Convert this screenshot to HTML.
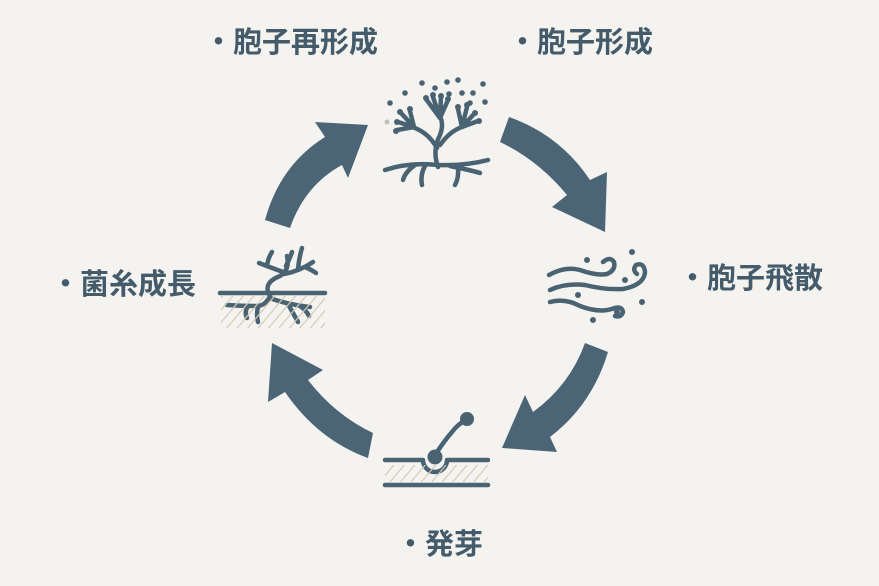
<!DOCTYPE html>
<html><head><meta charset="utf-8"><style>
html,body{margin:0;padding:0;background:#f4f3ef;}
#c{position:relative;width:879px;height:586px;overflow:hidden;background:#f4f3ef;}
svg{position:absolute;left:0;top:0;}
.l{position:absolute;font-family:"Liberation Sans","Noto Sans CJK JP",sans-serif;font-weight:bold;font-size:29px;line-height:29px;color:#435b6b;white-space:nowrap;}
</style></head><body><div id="c">
<svg width="879" height="586" viewBox="0 0 879 586">
<defs>
<pattern id="h" width="8" height="8" patternUnits="userSpaceOnUse" patternTransform="rotate(40)">
<line x1="0" y1="0" x2="0" y2="8" stroke="#d6c9b6" stroke-width="2.4"/>
</pattern>
</defs>
<g fill="#4b6576">
<path d="M509,117 Q560,135 590,180 L607,172 L605,232 L552,207 L567,195 Q538,160 500,142 Z"/>
<path d="M585,343 L608,352 Q592,405 550,437 L557,452 L502,448 L525,395 L533,412 Q570,385 585,343 Z"/>
<path d="M272,343 L323,370 L308,380 Q335,415 373,433 L368,458 Q318,440 285,392 L268,402 Z"/>
<path d="M265,220 Q280,165 325,137 L315,122 L368,125 L348,178 L342,165 Q305,185 290,228 Z"/>
</g>
<g fill="none" stroke="#4a6373" stroke-width="4.5" stroke-linecap="round" stroke-linejoin="round">
<!-- top icon -->
<path d="M438,165 Q410,162 385,170"/>
<path d="M415,165 Q405,172 403,180"/>
<path d="M425,166 Q420,175 422,185"/>
<path d="M438,165 Q465,166 488,160"/>
<path d="M450,166 Q470,170 480,173"/>
<path d="M458,167 Q459,178 455,185"/>
<path d="M438,167 Q432,150 440,135 Q444,125 440,116"/>
<path d="M440,118 L426,99 M440,118 L433,97 M440,118 L441,97 M440,118 L448,100"/>
<path d="M437,148 Q428,132 412,127"/>
<path d="M414,127 L397,130 M414,127 L398,122 M414,127 L401,113 M414,127 L410,111"/>
<path d="M440,145 Q450,131 462,127"/>
<path d="M462,127 L458,109 M462,127 L467,107 M462,127 L474,114 M462,127 L478,121"/>
<!-- right icon -->
<path d="M549,275 Q565,266 580,270 Q597,276 607,274 Q616,270 614,262 Q610,256 603,262"/>
<path d="M550,290 Q565,283 585,285 Q605,290 623,289 Q644,285 645,272 Q644,262 636,265 Q632,270 637,274"/>
<path d="M550,302 Q565,298 580,306 Q598,313 612,309 Q622,305 623,312 Q621,318 615,316"/>
<!-- left icon -->
<path d="M220,293 H325"/>
<path d="M270,296 Q262,283 280,276 Q290,270 287,256"/>
<path d="M283,272 Q272,268 259,263"/>
<path d="M267,266 Q268,258 272,252"/>
<path d="M286,266 Q290,258 292,252"/>
<path d="M284,274 Q300,271 313,262"/>
<path d="M298,269 Q299,258 302,248"/>
<path d="M305,267 Q312,270 316,273"/>
<path d="M270,296 Q266,305 258,306 Q242,306 227,305"/>
<path d="M248,306 Q244,312 247,318"/>
<path d="M258,307 Q256,315 258,322"/>
<path d="M270,298 Q285,304 310,307"/>
<path d="M288,304 Q293,313 298,322"/>
<path d="M300,306 Q306,310 309,316"/>
<!-- bottom icon -->
<path d="M385,460 H423 A12,12 0 0 0 447,460 H488"/>
<path d="M437,452 Q445,440 452,432 Q458,424 466,420"/>
<path d="M385,485 H488"/>
</g>
<rect x="221" y="296" width="104" height="32" fill="url(#h)"/>
<rect x="385" y="465" width="103" height="17" fill="url(#h)"/>
<g fill="#4a6373">
<circle cx="426" cy="98" r="3"/><circle cx="433" cy="95" r="3"/><circle cx="441" cy="96" r="3"/><circle cx="448" cy="99" r="3"/>
<circle cx="396" cy="131" r="3"/><circle cx="397" cy="122" r="3"/><circle cx="400" cy="112" r="3"/><circle cx="410" cy="109" r="3"/>
<circle cx="458" cy="107" r="3"/><circle cx="467" cy="105" r="3"/><circle cx="475" cy="113" r="3"/><circle cx="479" cy="121" r="3"/>
<circle cx="422" cy="83" r="2.8"/><circle cx="447" cy="82" r="2.8"/><circle cx="458" cy="80" r="2.8"/><circle cx="483" cy="84" r="2.8"/>
<circle cx="405" cy="93" r="2.8"/><circle cx="435" cy="88" r="2.8"/><circle cx="449" cy="94" r="2.8"/><circle cx="462" cy="93" r="2.8"/>
<circle cx="473" cy="93" r="2.8"/><circle cx="485" cy="102" r="2.8"/><circle cx="390" cy="103" r="2.8"/><circle cx="470" cy="103" r="2.8"/>
<circle cx="587" cy="260" r="3"/><circle cx="632" cy="252" r="3"/><circle cx="625" cy="280" r="3"/><circle cx="578" cy="295" r="3"/>
<circle cx="642" cy="302" r="3"/><circle cx="593" cy="320" r="3"/><circle cx="617" cy="312" r="3"/>
<circle cx="435" cy="457" r="7.5"/><circle cx="467" cy="419" r="7"/>
</g>
<circle cx="387" cy="122" r="2.5" fill="#b9c2c3"/>
</svg>
<div class="l" style="left:204px;top:29px;">・胞子再形成</div>
<div class="l" style="left:508px;top:29px;">・胞子形成</div>
<div class="l" style="left:51px;top:271px;">・菌糸成長</div>
<div class="l" style="left:678px;top:265px;">・胞子飛散</div>
<div class="l" style="left:396px;top:531px;">・発芽</div>
</div></body></html>
